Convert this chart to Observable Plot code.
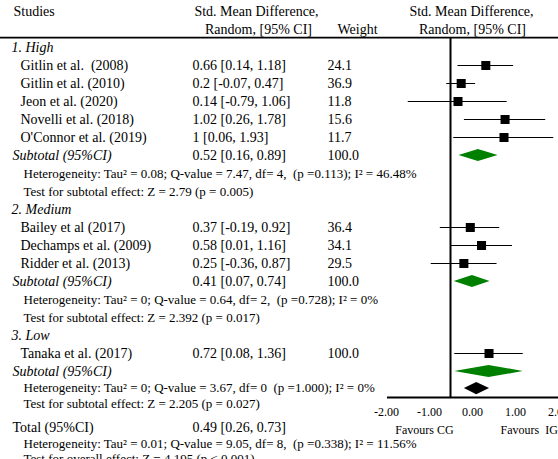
<!DOCTYPE html>
<html><head><meta charset="utf-8">
<script src="https://cdn.jsdelivr.net/npm/d3@7"></script>
<script src="https://cdn.jsdelivr.net/npm/@observablehq/plot@0.6"></script>
<style>
body{margin:0;background:#fff}
#c{position:relative;width:558px;height:459px;overflow:hidden}
#c svg{white-space:pre}
#c .ax{position:absolute;left:0;top:396px}
</style>
</head><body><div id="c"></div>
<script>
// ---- data ----
const studies = ["Gitlin et al.  (2008)", "Gitlin et al. (2010)", "Jeon et al. (2020)", "Novelli et al. (2018)", "O'Connor et al. (2019)", "Bailey et al (2017)", "Dechamps et al. (2009)", "Ridder et al. (2013)", "Tanaka et al. (2017)"];
const studyGroup = [0, 0, 0, 0, 0, 1, 1, 1, 2];
const smd = [0.66, 0.2, 0.14, 1.02, 1, 0.37, 0.58, 0.25, 0.72];
const ciLo = [0.14, -0.07, -0.79, 0.26, 0.06, -0.19, 0.01, -0.36, 0.08];
const ciHi = [1.18, 0.47, 1.06, 1.78, 1.93, 0.92, 1.16, 0.87, 1.36];
const weights = ["24.1", "36.9", "11.8", "15.6", "11.7", "36.4", "34.1", "29.5", "100.0"];

const groups = ["1. High", "2. Medium", "3. Low"];
const subEst = [0.52, 0.41, 0.72];
const subLo = [0.16, 0.07, 0.08];
const subHi = [0.89, 0.74, 1.36];
const subShowText = [true, true, false];
const subWeight = ["100.0", "100.0", ""];
const subHet = [
  "Heterogeneity: Tau\u00B2 = 0.08; Q-value = 7.47, df= 4,  (p =0.113); I\u00B2 = 46.48%",
  "Heterogeneity: Tau\u00B2 = 0; Q-value = 0.64, df= 2,  (p =0.728); I\u00B2 = 0%",
  "Heterogeneity: Tau\u00B2 = 0; Q-value = 3.67, df= 0  (p =1.000); I\u00B2 = 0%"
];
const subTest = [
  "Test for subtotal effect: Z = 2.79 (p = 0.005)",
  "Test for subtotal effect: Z = 2.392 (p = 0.017)",
  "Test for subtotal effect: Z = 2.205 (p = 0.027)"
];
const totalEst = 0.49, totalLo = 0.26, totalHi = 0.73;
const totalHet = "Heterogeneity: Tau\u00B2 = 0.01; Q-value = 9.05, df= 8,  (p =0.338); I\u00B2 = 11.56%";
const totalTest = "Test for overall effect: Z = 4.195 (p < 0.001)";
const axisTicks = [-2, -1, 0, 1, 2];

// ---- layout: row index -> vertical slot (rows after the last subtotal are packed tighter) ----
const tailSlots = [18.89, 19.78, 21.11, 22.0, 22.85];
const slot = i => (i <= 18 ? i : tailSlots[i - 19]);

// ---- build table rows ----
const ci = (e, l, h) => `${e} [${l}, ${h}]`;
const groupRows = [], studyRows = [], subRows = [], smallRows = [];
let r = 0;
groups.forEach((g, gi) => {
  groupRows.push({row: slot(r++), label: g});
  studies.forEach((s, i) => {
    if (studyGroup[i] === gi) studyRows.push({row: slot(r++), label: s, est: smd[i], lo: ciLo[i], hi: ciHi[i], val: ci(smd[i], ciLo[i], ciHi[i]), w: weights[i]});
  });
  subRows.push({row: slot(r++), g: gi, est: subEst[gi], lo: subLo[gi], hi: subHi[gi], val: subShowText[gi] ? ci(subEst[gi], subLo[gi], subHi[gi]) : "", w: subWeight[gi]});
  smallRows.push({row: slot(r++), label: subHet[gi]});
  smallRows.push({row: slot(r++), label: subTest[gi]});
});
const totalRow = {row: slot(r++), label: "Total (95%CI)", val: ci(totalEst, totalLo, totalHi)};
smallRows.push({row: slot(r++), label: totalHet});
smallRows.push({row: slot(r++), label: totalTest});
const totalDiamondRow = smallRows[4].row + 0.06;

const H = 0.34; // diamond half height in rows
const diamond = (g, row, lo, est, hi) => [
  {g, x: lo, y1: row, y2: row},
  {g, x: est, y1: row - H, y2: row + H},
  {g, x: hi, y1: row, y2: row}
];
const subDiamonds = subRows.flatMap(d => diamond(d.g, d.row, d.lo, d.est, d.hi));
const totDiamond = diamond("t", totalDiamondRow, totalLo, totalEst, totalHi);

const F = "Liberation Serif";
const txt = (data, opts) => Plot.text(data, {y: "row", frameAnchor: "left", textAnchor: "start", fontSize: 14, fill: "#000", ...opts});
const hdr = (row, label, dx, anchor) => Plot.text([{row, label}], {y: "row", text: "label", frameAnchor: "left", dx, textAnchor: anchor, fontSize: 14, fill: "#000"});

const main = Plot.plot({
  width: 558, height: 459,
  marginLeft: 0, marginRight: 0, marginTop: 37, marginBottom: 62,
  style: {fontFamily: F, background: "transparent", color: "#000", overflow: "visible"},
  x: {domain: [-1, 2], range: [396.5, 557], axis: null},
  y: {domain: [0, 18], range: [47, 371], axis: null},
  marks: [
    // headers
    hdr(-2, "Studies", 13, "start"),
    hdr(-2, "Std. Mean Difference,", 256, "middle"),
    hdr(-1, "Random, [95% CI]", 258, "middle"),
    hdr(-1, "Weight", 357, "middle"),
    hdr(-2, "Std. Mean Difference,", 471, "middle"),
    hdr(-1, "Random, [95% CI]", 472, "middle"),
    Plot.ruleY([-0.55], {stroke: "#000", strokeWidth: 1.6}),
    // left table
    txt(groupRows, {text: "label", dx: 11, fontStyle: "italic"}),
    txt(studyRows, {text: "label", dx: 20}),
    txt(studyRows, {text: "val", dx: 192}),
    txt(studyRows, {text: "w", dx: 327}),
    txt(subRows, {text: () => "Subtotal (95%CI)", dx: 12, fontStyle: "italic"}),
    txt(subRows, {text: "val", dx: 192}),
    txt(subRows, {text: "w", dx: 327}),
    txt(smallRows, {text: "label", dx: 23, fontSize: 13}),
    txt([totalRow], {text: "label", dx: 12}),
    txt([totalRow], {text: "val", dx: 192}),
    // forest
    Plot.ruleX([0], {stroke: "#000", strokeWidth: 2}),
    Plot.ruleY(studyRows, {y: "row", x1: "lo", x2: "hi", stroke: "#000", strokeWidth: 1}),
    Plot.dot(studyRows, {x: "est", y: "row", symbol: "square", r: 5.1, fill: "#000", stroke: "none"}),
    Plot.area(subDiamonds, {x1: "x", y1: "y1", y2: "y2", z: "g", fill: "#008000", curve: "linear"}),
    Plot.area(totDiamond, {x1: "x", y1: "y1", y2: "y2", z: "g", fill: "#000", curve: "linear"})
  ]
});

const axisPlot = Plot.plot({
  width: 558, height: 60,
  marginLeft: 387, marginRight: 0, marginTop: 1, marginBottom: 0,
  style: {fontFamily: F, background: "transparent", color: "#000", overflow: "visible"},
  x: {domain: [-2, 2], range: [386, 558], axis: null},
  y: {domain: [0, 1], range: [1, 59], axis: null},
  marks: [
    Plot.ruleY([0], {stroke: "#000", strokeWidth: 2}),
    Plot.text(axisTicks, {x: d => d, text: d => d.toFixed(2), frameAnchor: "top", lineAnchor: "middle", dy: 15, fontSize: 12, fill: "#000"}),
    Plot.text(["Favours CG"], {text: d => d, frameAnchor: "top-left", lineAnchor: "middle", dx: 37, dy: 33, textAnchor: "middle", fontSize: 12, fill: "#000"}),
    Plot.text(["Favours  IG"], {text: d => d, frameAnchor: "top-left", lineAnchor: "middle", dx: 113, dy: 33, textAnchor: "start", fontSize: 12, fill: "#000"})
  ]
});
axisPlot.classList.add("ax");

const c = document.getElementById("c");
c.appendChild(main);
c.appendChild(axisPlot);
</script>
</body></html>
